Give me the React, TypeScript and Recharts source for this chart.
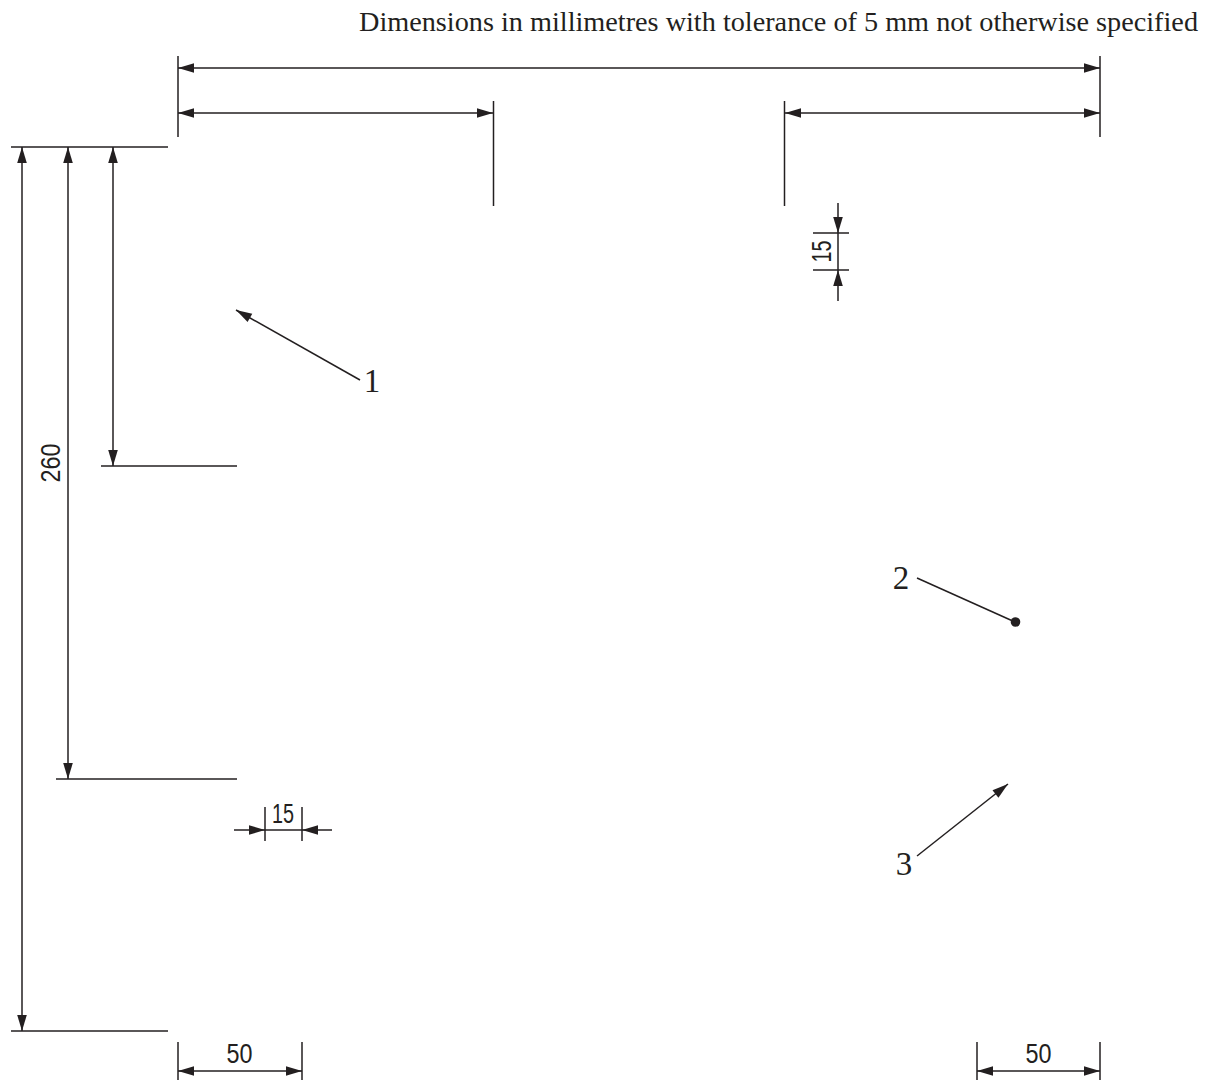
import { ScatterChart, Scatter, XAxis, YAxis } from "recharts"

const INK = "#231f20"

const extensionLines = [
    [178, 56, 178, 137],
    [1100, 56, 1100, 137],
    [493.5, 101, 493.5, 206],
    [784.5, 101, 784.5, 206],
    [11, 147, 168, 147],
    [101, 466, 237, 466],
    [56, 779, 237, 779],
    [11, 1031, 168, 1031],
    [813, 233, 849, 233],
    [813, 270, 849, 270],
    [265, 807, 265, 841],
    [302, 807, 302, 841],
    [178, 1042, 178, 1080],
    [302, 1042, 302, 1080],
    [977, 1042, 977, 1080],
    [1100, 1042, 1100, 1080],
]

const dimensionLines = [
    [178, 68, 1100, 68],
    [178, 113, 493, 113],
    [785, 113, 1100, 113],
    [22, 147, 22, 1031],
    [68, 147, 68, 779],
    [113, 147, 113, 466],
    [838, 203, 838, 301],
    [234, 830, 332, 830],
    [178, 1071, 302, 1071],
    [977, 1071, 1100, 1071],
]

const leaderLines = [
    [360, 380, 236, 310],
    [917, 578, 1015, 622],
    [917, 856, 1008, 784],
]

// arrow tip and the heading it points along
const arrowTips = [
    { x: 178, y: 68, heading: 180 },
    { x: 1100, y: 68, heading: 0 },
    { x: 178, y: 113, heading: 180 },
    { x: 493, y: 113, heading: 0 },
    { x: 785, y: 113, heading: 180 },
    { x: 1100, y: 113, heading: 0 },
    { x: 22, y: 147, heading: -90 },
    { x: 22, y: 1031, heading: 90 },
    { x: 68, y: 147, heading: -90 },
    { x: 68, y: 779, heading: 90 },
    { x: 113, y: 147, heading: -90 },
    { x: 113, y: 466, heading: 90 },
    { x: 838, y: 233, heading: 90 },
    { x: 838, y: 270, heading: -90 },
    { x: 265, y: 830, heading: 0 },
    { x: 302, y: 830, heading: 180 },
    { x: 178, y: 1071, heading: 180 },
    { x: 302, y: 1071, heading: 0 },
    { x: 977, y: 1071, heading: 180 },
    { x: 1100, y: 1071, heading: 0 },
    { x: 236, y: 310, heading: -150.6 },
    { x: 1008, y: 784, heading: -38.4 },
]

const leaderDots = [{ x: 1015.5, y: 622 }]

const titleLabels = [
    { x: 359, y: 31, text: "Dimensions in millimetres with tolerance of 5 mm not otherwise specified" },
]

const calloutLabels = [
    { x: 372, y: 392, text: "1" },
    { x: 901, y: 589, text: "2" },
    { x: 904, y: 875, text: "3" },
]

const horizontalDimensions = [
    { x: 283, y: 823, text: "15" },
    { x: 239.5, y: 1063, text: "50" },
    { x: 1038.5, y: 1063, text: "50" },
]

const verticalDimensions = [
    { x: 60, y: 463, text: "260" },
    { x: 831, y: 251.5, text: "15" },
]

const toPoints = ([x1, y1, x2, y2]: number[]) => [
    { x: x1, y: y1 },
    { x: x2, y: y2 },
]

const NoMark = () => <g />

const ArrowHead = ({ cx, cy, payload }: any) => (
    <polygon
        points="0,0 -16,-4.8 -16,4.8"
        fill={INK}
        transform={`translate(${cx} ${cy}) rotate(${payload.heading})`}
    />
)

const Dot = ({ cx, cy }: any) => <circle cx={cx} cy={cy} r={4.8} fill={INK} />

const TitleText = ({ cx, cy, payload }: any) => (
    <text
        x={cx}
        y={cy}
        fontFamily="'Liberation Serif', serif"
        fontSize={28}
        fill={INK}
        textLength={839}
        lengthAdjust="spacingAndGlyphs"
    >
        {payload.text}
    </text>
)

const CalloutText = ({ cx, cy, payload }: any) => (
    <text x={cx} y={cy} fontFamily="'Liberation Serif', serif" fontSize={33} fill={INK} textAnchor="middle">
        {payload.text}
    </text>
)

// narrow lettering as on ISO drawings, squeezed to the width each number has in the drawing
const dimensionWidth = (text: string) => (text === "260" ? 39 : text === "50" ? 26 : 22)

const DimensionText = ({ cx, cy, payload, rotated }: any) => (
    <text
        x={0}
        y={0}
        transform={`translate(${cx} ${cy}) rotate(${rotated ? -90 : 0})`}
        fontFamily="'Liberation Sans', sans-serif"
        fontSize={27}
        fill={INK}
        textAnchor="middle"
        textLength={dimensionWidth(payload.text)}
        lengthAdjust="spacingAndGlyphs"
    >
        {payload.text}
    </text>
)

export default function App() {
    const segments = [...extensionLines, ...dimensionLines, ...leaderLines]

    return (
        <div style={{ position: "absolute", left: 0, top: 0, width: 1205, height: 1081, background: "#fff" }}>
            <ScatterChart width={1205} height={1081} margin={{ top: 0, right: 0, bottom: 0, left: 0 }}>
                <XAxis type="number" dataKey="x" domain={[0, 1205]} hide />
                <YAxis type="number" dataKey="y" domain={[0, 1081]} reversed hide />
                {segments.map((segment, i) => (
                    <Scatter
                        key={i}
                        data={toPoints(segment)}
                        line={{ stroke: INK, strokeWidth: 1.5 }}
                        shape={NoMark}
                        isAnimationActive={false}
                    />
                ))}
                <Scatter data={arrowTips} shape={ArrowHead} isAnimationActive={false} />
                <Scatter data={leaderDots} shape={Dot} isAnimationActive={false} />
                <Scatter data={titleLabels} shape={TitleText} isAnimationActive={false} />
                <Scatter data={calloutLabels} shape={CalloutText} isAnimationActive={false} />
                <Scatter data={horizontalDimensions} shape={DimensionText} isAnimationActive={false} />
                <Scatter
                    data={verticalDimensions}
                    shape={(props: any) => <DimensionText {...props} rotated />}
                    isAnimationActive={false}
                />
            </ScatterChart>
        </div>
    )
}
